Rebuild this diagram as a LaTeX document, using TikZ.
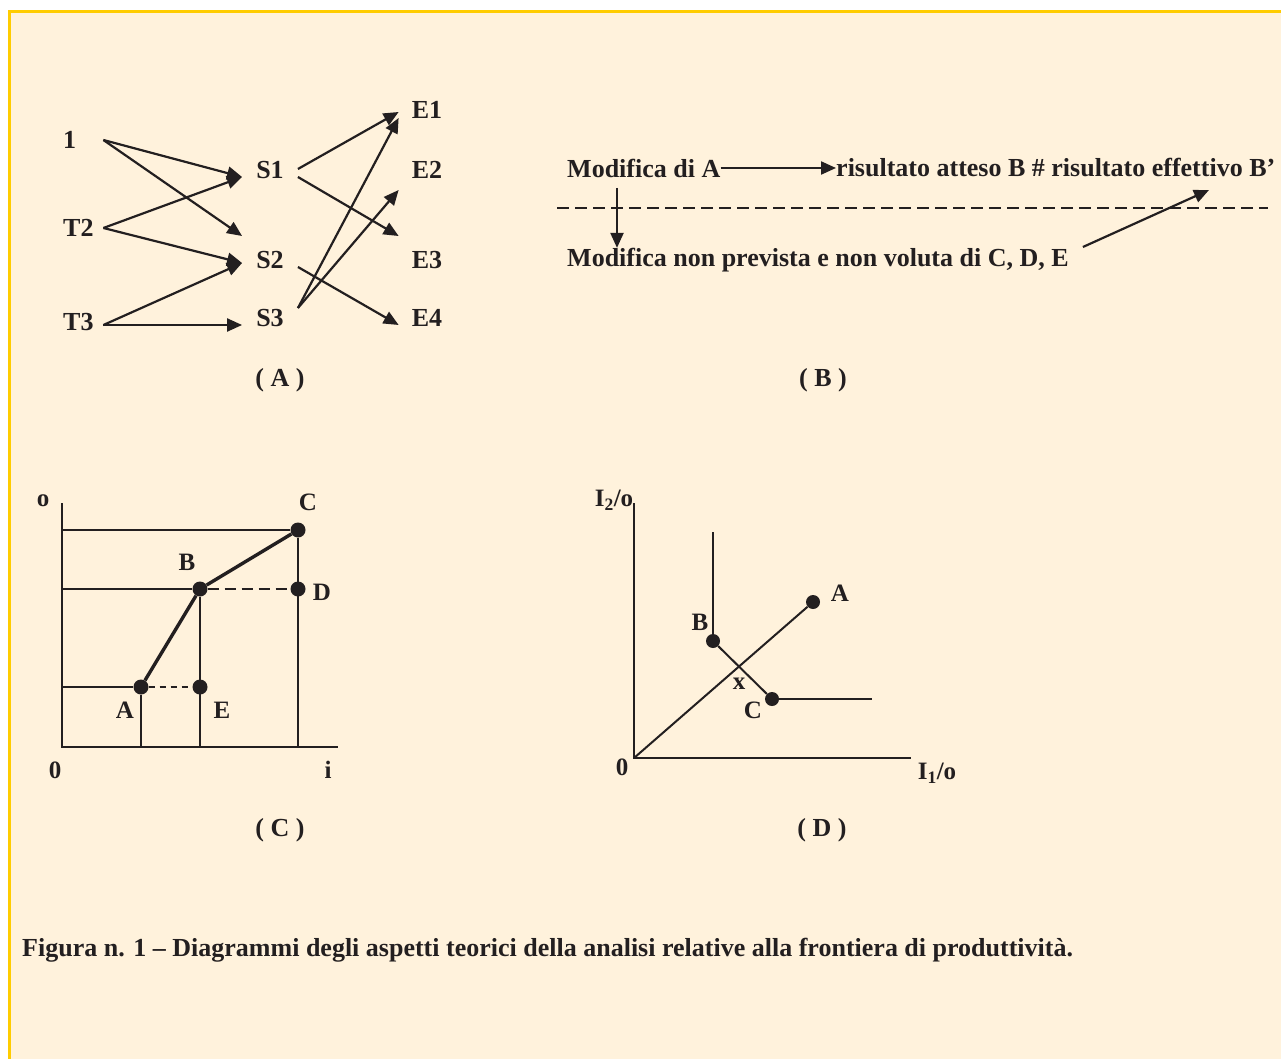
\documentclass[tikz,border=0pt]{standalone}
\usepackage{fontspec}
\setmainfont{Liberation Serif}
\usetikzlibrary{arrows.meta}
\definecolor{paper}{RGB}{255,242,220}
\definecolor{framey}{RGB}{255,204,0}
\definecolor{ink}{RGB}{35,31,32}
\tikzset{
  lbl/.style={font=\fontsize{26}{30}\selectfont\bfseries, text=ink, inner sep=0pt},
  small/.style={font=\fontsize{25}{29}\selectfont\bfseries, text=ink, inner sep=0pt},
  src/.style={lbl, text width=30pt, inner xsep=10pt, anchor=west},
  mid/.style={lbl, inner xsep=14pt},
  dest/.style={lbl, inner xsep=13pt},
  arr/.style={-{Triangle[length=15pt,width=13pt]}, line width=2.2pt, draw=ink},
  thin/.style={line width=2pt, draw=ink},
  heavy/.style={line width=3.4pt, draw=ink},
  dot/.style={circle, fill=ink, inner sep=0pt, minimum size=15pt}
}

\begin{document}
\begin{tikzpicture}[x=1pt, y=-1pt]
  \useasboundingbox (0,0) rectangle (1281,1059);
  \fill[paper] (9,12) rectangle (1281,1059);
  \draw[framey, line width=3pt] (9.5,1059) -- (9.5,12) -- (1281,12);

  % (A)
  \node[src] (one) at (53,140) {1};
  \node[src] (t2) at (53,228) {T2};
  \node[src] (t3) at (53,322) {T3};
  \node[mid] (s1) at (270,170) {S1};
  \node[mid] (s2) at (270,260) {S2};
  \node[mid] (s3) at (270,318) {S3};
  \node[dest] (e1) at (427,110) {E1};
  \node[dest] (e2) at (427,170) {E2};
  \node[dest] (e3) at (427,260) {E3};
  \node[dest] (e4) at (427,318) {E4};
  \node[lbl] (capa) at (280,380) {( A )};

  \draw[arr] (one.east) -- ([yshift=-7pt]s1.west);
  \draw[arr] (one.east) -- ([yshift=24pt]s2.west);
  \draw[arr] (t2.east) -- ([yshift=-7pt]s1.west);
  \draw[arr] (t2.east) -- ([yshift=-3pt]s2.west);
  \draw[arr] ([yshift=-3pt]t3.east) -- ([yshift=-3pt]s2.west);
  \draw[arr] ([yshift=-3pt]t3.east) -- ([yshift=-7pt]s3.west);
  \draw[arr] ([yshift=1pt]s1.east) -- ([yshift=-2pt]e1.west);
  \draw[arr] ([yshift=-7pt]s1.east) -- ([yshift=24pt]e3.west);
  \draw[arr] ([yshift=-7pt]s2.east) -- ([yshift=-7pt]e4.west);
  \draw[arr] ([yshift=10pt]s3.east) -- ([yshift=-8pt]e1.west);
  \draw[arr] ([yshift=10pt]s3.east) -- ([yshift=-20pt]e2.west);

  % (B)
  \node[lbl, anchor=west] (moda) at (567,168) {Modifica di A};
  \node[lbl, anchor=west] (ris) at (836,168) {risultato atteso B \# risultato effettivo B’};
  \node[lbl, anchor=west] (modc) at (567,260) {Modifica non prevista e non voluta di C, D, E};
  \node[lbl] (capb) at (823,380) {( B )};
  \coordinate (down) at (617,188);
  \coordinate (up) at (1209,190);
  \draw[thin, dash pattern=on 12pt off 6pt] (557,208) -- (1268,208);
  \draw[arr] (moda.east) -- (ris.west);
  \draw[arr] (down) -- (down |- modc.north);
  \draw[arr] ([xshift=14pt,yshift=13pt]modc.east) -- (up);

  % (C)
  \coordinate (c0) at (62,747);
  \node[dot] (ca) at (141,687) {};
  \node[dot] (cb) at (200,589) {};
  \node[dot] (cc) at (298,530) {};
  \node[dot] (cd) at (298,589) {};
  \node[dot] (ce) at (200,687) {};
  \draw[thin] (62,503) -- (c0) -- (338,747);
  \draw[thin] (cc -| c0) -- (cc);
  \draw[thin] (cc) -- (cc |- c0);
  \draw[thin] (ca -| c0) -- (ca);
  \draw[heavy, line width=2.6pt] (cb -| c0) -- (cb);
  \draw[heavy, line width=2.6pt] (cb) -- (cb |- c0);
  \draw[heavy, line width=2.6pt] (ca) -- (ca |- c0);
  \draw[thin, dash pattern=on 11pt off 6pt] (cb) -- (cd);
  \draw[thin, dash pattern=on 6pt off 5pt] (ca) -- (ce);
  \draw[heavy] (ca) -- (cb) -- (cc);
  \node[small] at (43,501) {o};
  \node[small] at (55,770) {0};
  \node[small] at (328,770) {i};
  \node[small] at (308,502) {C};
  \node[small] at (187,562) {B};
  \node[small] at (322,592) {D};
  \node[small] at (125,710) {A};
  \node[small] at (222,710) {E};
  \node[lbl] (capc) at (280,830) {( C )};

  % (D)
  \coordinate (d0) at (634,758);
  \node[dot, minimum size=14pt] (da) at (813,602) {};
  \node[dot, minimum size=14pt] (db) at (713,641) {};
  \node[dot, minimum size=14pt] (dc) at (772,699) {};
  \draw[thin] (634,503) -- (d0) -- (911,758);
  \draw[thin] (d0) -- (da);
  \draw[thin] (db) -- (713,532);
  \draw[thin] (dc) -- (872,699);
  \draw[thin] (db) -- (dc);
  \node[small] at (614,500) {I\textsubscript{2}/o};
  \node[small] at (622,767) {0};
  \node[small] at (937,773) {I\textsubscript{1}/o};
  \node[small] at (840,593) {A};
  \node[small] at (700,622) {B};
  \node[small] at (753,710) {C};
  \node[small] at (739,684) {x};
  \node[lbl] (capd) at (822,830) {( D )};

  % caption
  \node[lbl, anchor=west] (caption) at (22,950)
    {Figura n. 1 – Diagrammi degli aspetti teorici della analisi relative alla frontiera di produttività.};
\end{tikzpicture}
\end{document}
